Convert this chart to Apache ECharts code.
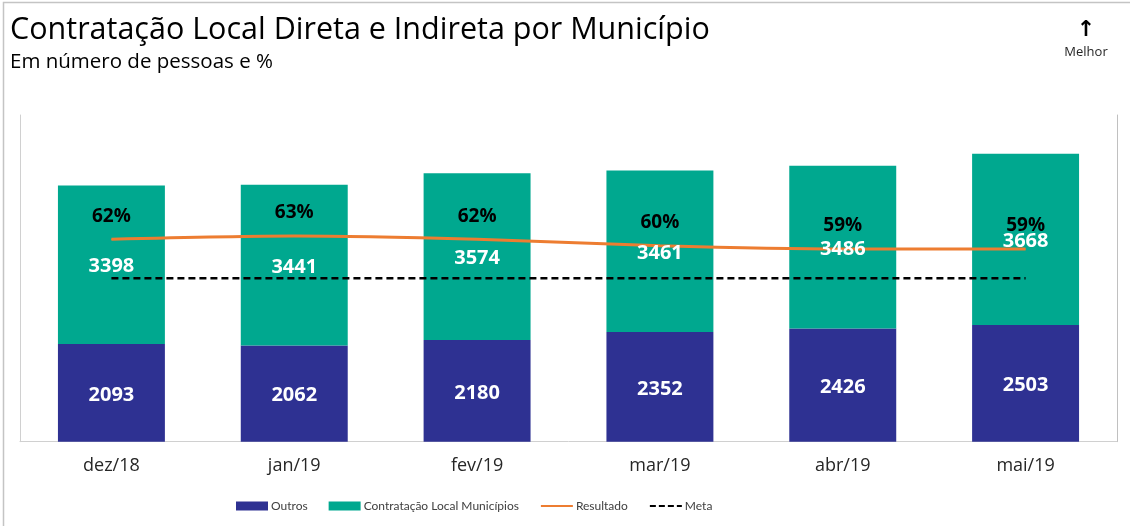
<!DOCTYPE html>
<html>
<head>
<meta charset="utf-8">
<script src="https://cdn.jsdelivr.net/npm/echarts@6/dist/echarts.min.js"></script>
<style>
  html, body { margin: 0; padding: 0; background: #ffffff; }
  #chart { width: 1130px; height: 526px; }
</style>
</head>
<body>
<div id="chart"></div>
<script>
// Monthly local hiring (direct + indirect) by municipality
const categories = ['dez/18', 'jan/19', 'fev/19', 'mar/19', 'abr/19', 'mai/19'];
const outros = [2093, 2062, 2180, 2352, 2426, 2503];
const contratacaoLocal = [3398, 3441, 3574, 3461, 3486, 3668];
const resultado = [62, 63, 62, 60, 59, 59];   // % local share
const meta = [50, 50, 50, 50, 50, 50];        // % target

const FONT = '"Open Sans", "Noto Sans", sans-serif';
const LEGEND_FONT = 'Lato, "Open Sans", sans-serif';
const BAR_WIDTH = '58.5%';

const valueLabel = {
  show: true, position: 'inside', offset: [0, 2],
  color: '#ffffff', fontFamily: FONT, fontWeight: 'bold', fontSize: 20
};

// Visible stacked bars (no labels) underneath the lines
function barSeries(name, data, color) {
  return {
    name, type: 'bar', stack: 'total', data,
    barWidth: BAR_WIDTH, barGap: '-100%', z: 2,
    itemStyle: { color },
    label: { show: false }
  };
}
// Transparent copy of the stack that carries the value labels above the lines
function labelSeries(name, data) {
  return {
    name, type: 'bar', stack: 'labels', data,
    barWidth: BAR_WIDTH, barGap: '-100%', z: 6, silent: true,
    itemStyle: { color: 'rgba(0,0,0,0)' },
    label: valueLabel
  };
}

const chart = echarts.init(document.getElementById('chart'), null, { renderer: 'canvas' });

const option = {
  animation: false,
  backgroundColor: '#ffffff',
  textStyle: { fontFamily: FONT },
  graphic: [
    {
      type: 'rect', silent: true, z: 0,
      shape: { x: 3.5, y: 2.5, width: 1200, height: 600 },
      style: { fill: 'none', stroke: '#c4c4c4', lineWidth: 1.5 }
    },
    {
      type: 'text', left: 10, top: 15,
      style: { text: 'Contratação Local Direta e Indireta por Município', font: '30.5px ' + FONT, fill: '#000000' }
    },
    {
      type: 'text', left: 10, top: 52,
      style: { text: 'Em número de pessoas e %', font: '20.5px ' + FONT, fill: '#000000' }
    },
    {
      type: 'text', x: 1086, y: 30,
      style: { text: '↑', font: 'bold 22px "DejaVu Sans"', fill: '#000000', align: 'center', verticalAlign: 'middle' }
    },
    {
      type: 'text', x: 1086, y: 52,
      style: { text: 'Melhor', font: '13px ' + FONT, fill: '#262626', align: 'center', verticalAlign: 'middle' }
    }
  ],
  legend: {
    left: 236, top: 500, padding: 0,
    itemWidth: 32, itemHeight: 9, itemGap: 21,
    textStyle: { fontFamily: LEGEND_FONT, fontSize: 12, color: '#404040', padding: [0, 0, 0, -2] },
    data: [
      { name: 'Outros', icon: 'rect' },
      { name: 'Contratação Local Municípios', icon: 'rect' },
      { name: 'Resultado', itemStyle: { opacity: 0 } },
      { name: 'Meta', itemStyle: { opacity: 0 }, lineStyle: { type: [6, 3] } }
    ]
  },
  grid: { left: 20, right: 13, top: 115, bottom: 84.3, containLabel: false },
  xAxis: {
    type: 'category',
    data: categories,
    axisLine: { lineStyle: { color: '#d0d0d0', width: 1 } },
    axisTick: { show: false },
    axisLabel: { fontFamily: FONT, fontSize: 18, color: '#262626', margin: 15 }
  },
  yAxis: [
    {
      type: 'value', min: 0, max: 7000,
      axisLine: { show: true, lineStyle: { color: '#d0d0d0' } },
      axisTick: { show: false }, axisLabel: { show: false }, splitLine: { show: false }
    },
    {
      type: 'value', min: 0, max: 100, position: 'right',
      axisLine: { show: true, lineStyle: { color: '#c0c0c0' } },
      axisTick: { show: false }, axisLabel: { show: false }, splitLine: { show: false }
    }
  ],
  series: [
    barSeries('Outros', outros, '#2E3192'),
    barSeries('Contratação Local Municípios', contratacaoLocal, '#00A88F'),
    {
      name: 'Resultado', type: 'line', yAxisIndex: 1, data: resultado, z: 4,
      smooth: 0.3, symbol: 'circle', symbolSize: 1, showSymbol: true,
      lineStyle: { color: '#ED7D31', width: 3 },
      itemStyle: { color: '#ED7D31' },
      label: {
        show: true, position: 'top', distance: 13,
        color: '#000000', fontFamily: FONT, fontWeight: 'bold', fontSize: 19,
        formatter: p => p.value + '%'
      }
    },
    {
      name: 'Meta', type: 'line', yAxisIndex: 1, data: meta, z: 3,
      symbol: 'none',
      lineStyle: { color: '#000000', width: 2.5, type: [7, 4] },
      itemStyle: { color: '#000000' }
    },
    labelSeries('Outros valores', outros),
    labelSeries('Contratação valores', contratacaoLocal)
  ]
};

chart.setOption(option);
</script>
</body>
</html>
